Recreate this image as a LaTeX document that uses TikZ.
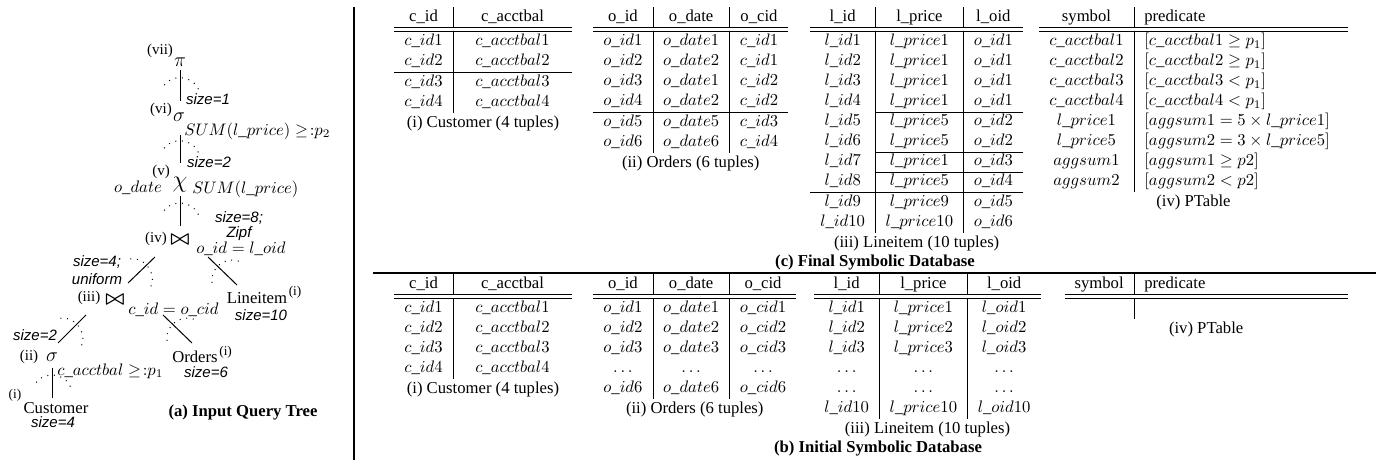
\documentclass[tikz,border=0pt]{standalone}
\usepackage[no-math]{fontspec}
\setmainfont{Liberation Serif}
\setsansfont{Liberation Sans}
\usepackage{array}
\usetikzlibrary{calc}
\usetikzlibrary{positioning}

% tree edge with its dotted arc
\newcommand{\treeedge}[2]{%
  \draw[treeline] #1 coordinate (ea) -- #2 coordinate (eb);
  \draw[flowarc] ($(ea)!0.62!(eb)!11pt!90:(eb)$) to[bend right=65, looseness=1.2] ($(ea)!0.62!(eb)!11pt!-90:(eb)$);}

\begin{document}
\begin{tikzpicture}[
    x = 0.6pt,
    y = -0.6pt,
    op/.style = {
      inner sep=0pt,
      font=\large
    },
    joinop/.style = {
      inner sep=0pt,
      font=\large\boldmath
    },
    num/.style = {
      inner sep=0pt,
      font=\small
    },
    supnum/.style = {
      inner sep=0pt,
      font=\footnotesize
    },
    subs/.style = {
      inner sep=0pt,
      anchor=west
    },
    sz/.style = {
      inner sep=0pt,
      font=\small\sffamily\itshape,
      align=center
    },
    leaf/.style = {
      inner sep=0pt
    },
    treeline/.style = {
      line width=0.6pt
    },
    flowarc/.style = {
      line width=0.6pt,
      dash pattern=on 0.6pt off 3.4pt
    },
    tbl/.style = {
      inner sep=0pt,
      anchor=north west
    },
    tblcap/.style = {
      inner sep=0pt,
      execute at begin node=\strut
    },
    partcap/.style = {
      inner sep=0pt,
      font=\bfseries
    },
    sep/.style = {
      line width=0.8pt
    }
  ]
    \useasboundingbox (0,0) rectangle (1387,464);

    % (a) query tree
    \node[op] (pi) at (180,62) {$\pi$};
    \node[num] (n7) at (160,51) {(vii)};
    \node[sz] (s1) at (208,99) {size=1};

    \node[op] (sel2) at (179,117) {$\sigma$};
    \node[num] (n6) at (161,110) {(vi)};
    \node[subs] (p6) at (184,131) {$SUM(l\_price) \geq\!{:}p_2$};
    \node[sz] (s2) at (209,162) {size=2};

    \node[op, font=\Large] (grp) at (180,185) {$\chi$};
    \node[num] (n5) at (161,172) {(v)};
    \node[leaf] (od) at (138,188) {$o\_date$};
    \node[subs] (p5) at (192,189) {$SUM(l\_price)$};
    \node[sz, font={\fontsize{9}{7}\selectfont\sffamily\itshape}] (s8) at (239,226) {size=8;\\Zipf};

    \node[joinop] (join2) at (180,240) {$\bowtie$};
    \node[num] (n4) at (156,239) {(iv)};
    \node[subs] (p4) at (196,249) {$o\_id = l\_oid$};
    \node[sz] (s4) at (97,270) {size=4;\\uniform};

    \node[joinop] (join1) at (115,300) {$\bowtie$};
    \node[num] (n3) at (89,298) {(iii)};
    \node[subs] (p3) at (128,310) {$c\_id = o\_cid$};

    \node[leaf] (li) at (257,298) {Lineitem};
    \node[supnum, anchor=west] (li1) at ($(li.east)+(1,-6)$) {(i)};
    \node[sz] (s10) at (261,315) {size=10};

    \node[sz] (s2b) at (35,335) {size=2};
    \node[op] (sel1) at (52,357) {$\sigma$};
    \node[num] (n2) at (29,357) {(ii)};
    \node[subs] (p2) at (57,371) {$c\_acctbal \geq\!{:}p_1$};

    \node[leaf] (ord) at (195,357) {Orders};
    \node[supnum, anchor=west] (ord1) at ($(ord.east)+(1,-5)$) {(i)};
    \node[sz] (s6) at (206,372) {size=6};

    \node[leaf] (cust) at (56,408) {Customer};
    \node[supnum] (cust1) at (15,395) {(i)};
    \node[sz] (s4b) at (53,422) {size=4};

    \treeedge{($(pi)+(0,8)$)}{($(sel2)+(1,-16)$)}
    \treeedge{($(sel2)+(1,18)$)}{($(grp)+(0,-22)$)}
    \treeedge{($(grp)+(0,11)$)}{($(join2)+(0,-14)$)}
    \treeedge{($(join2)+(-25,17)$)}{($(join1)+(13,-17)$)}
    \treeedge{($(join2)+(28,17)$)}{($(li)+(-20,-13)$)}
    \treeedge{($(join1)+(-29,15)$)}{($(sel1)+(6,-14)$)}
    \treeedge{($(join1)+(48,15)$)}{($(ord)+(-3,-14)$)}
    \treeedge{($(sel1)+(0,11)$)}{($(cust)+(-4,-10)$)}

    \node[partcap] (capa) at (243,413) {(a) Input Query Tree};

    % separators
    \draw[sep] (354,7) -- (354,460);
    \draw[sep] (373,273) -- (1376,273);

    % (c) final symbolic database
    \node[tbl] (custF) at (394,7) {%
      \begin{tabular}{c|w{c}{59pt}}
        c\_id & c\_acctbal\\ \hline\hline
        $c\_id1$ & $c\_acctbal1$\\
        $c\_id2$ & $c\_acctbal2$\\ \hline
        $c\_id3$ & $c\_acctbal3$\\
        $c\_id4$ & $c\_acctbal4$
      \end{tabular}};
    \node[tblcap, below=0pt of custF] (custFc) {(i) Customer (4 tuples)};

    \node[tbl] (ordF) at (593,7) {%
      \begin{tabular}{c|c|c}
        o\_id & o\_date & o\_cid\\ \hline\hline
        $o\_id1$ & $o\_date1$ & $c\_id1$\\
        $o\_id2$ & $o\_date2$ & $c\_id1$\\
        $o\_id3$ & $o\_date1$ & $c\_id2$\\
        $o\_id4$ & $o\_date2$ & $c\_id2$\\ \hline
        $o\_id5$ & $o\_date5$ & $c\_id3$\\
        $o\_id6$ & $o\_date6$ & $c\_id4$
      \end{tabular}};
    \node[tblcap, below=0pt of ordF] (ordFc) {(ii) Orders (6 tuples)};

    \node[tbl] (liF) at (810,7) {%
      \begin{tabular}{c|c|c}
        l\_id & l\_price & l\_oid\\ \hline\hline
        $l\_id1$ & $l\_price1$ & $o\_id1$\\
        $l\_id2$ & $l\_price1$ & $o\_id1$\\
        $l\_id3$ & $l\_price1$ & $o\_id1$\\
        $l\_id4$ & $l\_price1$ & $o\_id1$\\ \cline{2-3}
        $l\_id5$ & $l\_price5$ & $o\_id2$\\
        $l\_id6$ & $l\_price5$ & $o\_id2$\\ \cline{2-3}
        $l\_id7$ & $l\_price1$ & $o\_id3$\\ \cline{2-3}
        $l\_id8$ & $l\_price5$ & $o\_id4$\\ \hline
        $l\_id9$ & $l\_price9$ & $o\_id5$\\
        $l\_id10$ & $l\_price10$ & $o\_id6$
      \end{tabular}};
    \node[tblcap, below=0pt of liF] (liFc) {(iii) Lineitem (10 tuples)};

    \node[tbl, anchor=north east] (ptF) at (1348,7) {%
      \begin{tabular}{c|p{116pt}}
        symbol & predicate\\ \hline\hline
        $c\_acctbal1$ & $[c\_acctbal1 \geq p_1]$\\
        $c\_acctbal2$ & $[c\_acctbal2 \geq p_1]$\\
        $c\_acctbal3$ & $[c\_acctbal3 < p_1]$\\
        $c\_acctbal4$ & $[c\_acctbal4 < p_1]$\\
        $l\_price1$ & $[aggsum1 = 5 \times l\_price1]$\\
        $l\_price5$ & $[aggsum2 = 3 \times l\_price5]$\\
        $aggsum1$ & $[aggsum1 \geq p2]$\\
        $aggsum2$ & $[aggsum2 < p2]$
      \end{tabular}};
    \node[tblcap, below=0pt of ptF] (ptFc) {(iv) PTable};

    \node[partcap] (capc) at (875,263) {(c) Final Symbolic Database};

    % (b) initial symbolic database
    \node[tbl] (custI) at (394,274) {%
      \begin{tabular}{c|w{c}{59pt}}
        c\_id & c\_acctbal\\ \hline\hline
        $c\_id1$ & $c\_acctbal1$\\
        $c\_id2$ & $c\_acctbal2$\\
        $c\_id3$ & $c\_acctbal3$\\
        $c\_id4$ & $c\_acctbal4$
      \end{tabular}};
    \node[tblcap, below=0pt of custI] (custIc) {(i) Customer (4 tuples)};

    \node[tbl] (ordI) at (593,274) {%
      \begin{tabular}{c|c|c}
        o\_id & o\_date & o\_cid\\ \hline\hline
        $o\_id1$ & $o\_date1$ & $o\_cid1$\\
        $o\_id2$ & $o\_date2$ & $o\_cid2$\\
        $o\_id3$ & $o\_date3$ & $o\_cid3$\\
        $\ldots$ & $\ldots$ & $\ldots$\\
        $o\_id6$ & $o\_date6$ & $o\_cid6$
      \end{tabular}};
    \node[tblcap, below=0pt of ordI] (ordIc) {(ii) Orders (6 tuples)};

    \node[tbl] (liI) at (814,274) {%
      \begin{tabular}{c|c|c}
        l\_id & l\_price & l\_oid\\ \hline\hline
        $l\_id1$ & $l\_price1$ & $l\_oid1$\\
        $l\_id2$ & $l\_price2$ & $l\_oid2$\\
        $l\_id3$ & $l\_price3$ & $l\_oid3$\\
        $\ldots$ & $\ldots$ & $\ldots$\\
        $\ldots$ & $\ldots$ & $\ldots$\\
        $l\_id10$ & $l\_price10$ & $l\_oid10$
      \end{tabular}};
    \node[tblcap, below=0pt of liI] (liIc) {(iii) Lineitem (10 tuples)};

    \node[tbl, anchor=north east] (ptI) at (1348,274) {%
      \begin{tabular}{c|p{116pt}}
        symbol & predicate\\ \hline\hline
        & \\
      \end{tabular}};
    \node[tblcap, below=0pt of ptI] (ptIc) {(iv) PTable};

    \node[partcap] (capb) at (878,449) {(b) Initial Symbolic Database};

  \end{tikzpicture}
\end{document}
